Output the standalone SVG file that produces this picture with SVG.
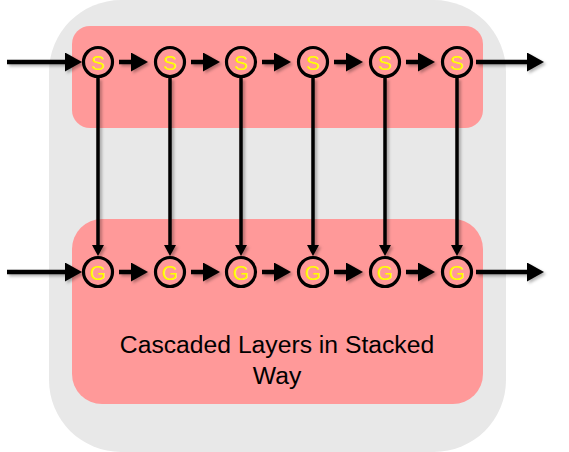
<svg xmlns="http://www.w3.org/2000/svg" width="569" height="452" viewBox="0 0 569 452">
<style>
.conn{stroke:#000;stroke-width:4.5;fill:none}
.vert{stroke:#000;stroke-width:3.5;fill:none}
.node circle{fill:#FF9999;stroke:#000;stroke-width:3.2}
.node text{fill:#FFFF00;font-family:"Liberation Sans",Arial,sans-serif;font-size:21px;text-anchor:middle}
.label{fill:#000;font-family:"Liberation Sans",Arial,sans-serif;font-size:24.7px;text-anchor:middle}
</style>
<defs>
<filter id="sh" x="-20%" y="-20%" width="140%" height="140%">
<feDropShadow dx="2" dy="2" stdDeviation="1.5" flood-color="#000" flood-opacity="0.3"/>
</filter>
<marker id="ah" markerUnits="userSpaceOnUse" markerWidth="18" markerHeight="20" refX="0" refY="9.5" orient="auto">
<path d="M0,0 L17,9.5 L0,19 z" fill="#000"/>
</marker>
<marker id="av" markerUnits="userSpaceOnUse" markerWidth="12" markerHeight="13" refX="0" refY="6" orient="auto">
<path d="M0,0 L11,6 L0,12 z" fill="#000"/>
</marker>
</defs>
<rect x="49" y="0" width="457" height="452" rx="72" ry="72" fill="#E8E8E8"/>
<rect x="72" y="26" width="411" height="102" rx="18" ry="18" fill="#FF9999"/>
<rect x="72" y="219" width="411" height="185" rx="30" ry="30" fill="#FF9999"/>
<text class="label" x="277" y="353">Cascaded Layers in Stacked</text>
<text class="label" x="277" y="384">Way</text>
<g id="connectors" filter="url(#sh)">
<path class="conn" d="M7,62 H65" marker-end="url(#ah)"/>
<path class="conn" d="M119,62 H131" marker-end="url(#ah)"/>
<path class="conn" d="M191,62 H203" marker-end="url(#ah)"/>
<path class="conn" d="M262,62 H274" marker-end="url(#ah)"/>
<path class="conn" d="M334,62 H346" marker-end="url(#ah)"/>
<path class="conn" d="M406,62 H418" marker-end="url(#ah)"/>
<path class="conn" d="M476,62 H527" marker-end="url(#ah)"/>
<path class="conn" d="M7,272 H65" marker-end="url(#ah)"/>
<path class="conn" d="M119,272 H131" marker-end="url(#ah)"/>
<path class="conn" d="M191,272 H203" marker-end="url(#ah)"/>
<path class="conn" d="M262,272 H274" marker-end="url(#ah)"/>
<path class="conn" d="M334,272 H346" marker-end="url(#ah)"/>
<path class="conn" d="M406,272 H418" marker-end="url(#ah)"/>
<path class="conn" d="M476,272 H527" marker-end="url(#ah)"/>
<path class="vert" d="M98,78 V245" marker-end="url(#av)"/>
<path class="vert" d="M170,78 V245" marker-end="url(#av)"/>
<path class="vert" d="M241,78 V245" marker-end="url(#av)"/>
<path class="vert" d="M313,78 V245" marker-end="url(#av)"/>
<path class="vert" d="M385,78 V245" marker-end="url(#av)"/>
<path class="vert" d="M457,78 V245" marker-end="url(#av)"/>
</g>
<g id="s1" class="node"><circle cx="98" cy="62" r="14.5"/><text x="98" y="69.5">S</text></g>
<g id="s2" class="node"><circle cx="170" cy="62" r="14.5"/><text x="170" y="69.5">S</text></g>
<g id="s3" class="node"><circle cx="241" cy="62" r="14.5"/><text x="241" y="69.5">S</text></g>
<g id="s4" class="node"><circle cx="313" cy="62" r="14.5"/><text x="313" y="69.5">S</text></g>
<g id="s5" class="node"><circle cx="385" cy="62" r="14.5"/><text x="385" y="69.5">S</text></g>
<g id="s6" class="node"><circle cx="457" cy="62" r="14.5"/><text x="457" y="69.5">S</text></g>
<g id="g1" class="node"><circle cx="98" cy="272" r="14.5"/><text x="98" y="279.5">G</text></g>
<g id="g2" class="node"><circle cx="170" cy="272" r="14.5"/><text x="170" y="279.5">G</text></g>
<g id="g3" class="node"><circle cx="241" cy="272" r="14.5"/><text x="241" y="279.5">G</text></g>
<g id="g4" class="node"><circle cx="313" cy="272" r="14.5"/><text x="313" y="279.5">G</text></g>
<g id="g5" class="node"><circle cx="385" cy="272" r="14.5"/><text x="385" y="279.5">G</text></g>
<g id="g6" class="node"><circle cx="457" cy="272" r="14.5"/><text x="457" y="279.5">G</text></g>
</svg>
